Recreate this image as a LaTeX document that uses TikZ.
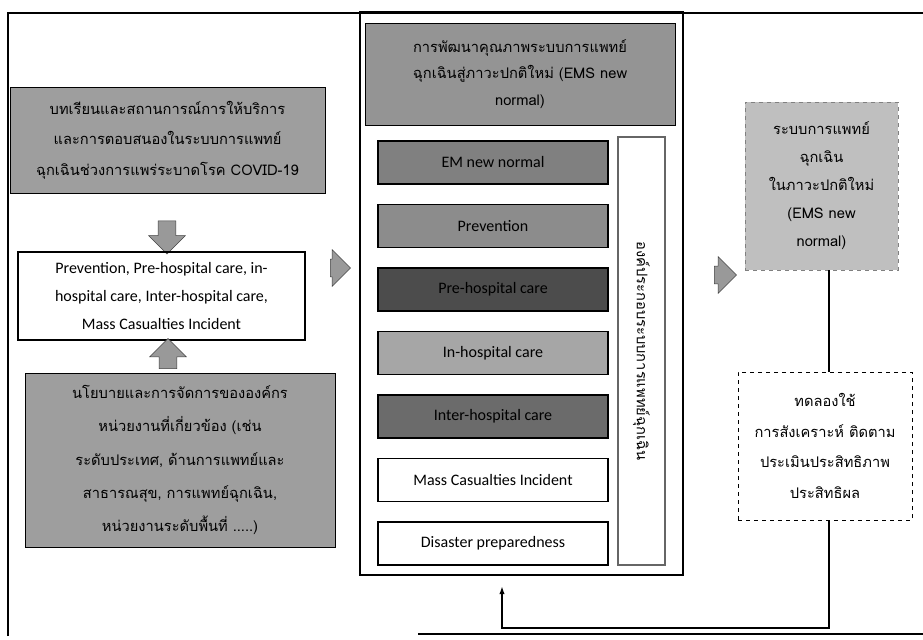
\documentclass[tikz,border=0pt]{standalone}
\usepackage{fontspec}
\setmainfont{Carlito}
\newfontfamily\thai[Script=Thai]{Loma}
\usetikzlibrary{shapes.arrows,arrows.meta}

\tikzset{
  wh/.style 2 args={minimum width=#1*0.75pt, minimum height=#2*0.75pt},
  box/.style={draw, inner sep=0pt, align=center},
  thaitext/.style={font=\thai\fontsize{11}{#1}\selectfont},
  item/.style={draw, line width=0.8pt, inner sep=0pt, wh={230}{43}, font=\fontsize{12}{14}\selectfont},
  blockarrow/.style={single arrow, draw=black!75, fill=black!40, inner xsep=0pt, inner ysep=6.5pt,
    single arrow head extend=7pt, minimum height=#1*0.75pt}
}

\begin{document}
\begin{tikzpicture}[x=0.75pt, y=-0.75pt]
	\useasboundingbox (0,0) rectangle (923,639);
	\draw[line width=0.8pt] (8,636) -- (8,13) -- (923,13);
	\draw[line width=0.8pt] (418,634) -- (923,634);

	\node[box, fill=black!38, wh={315}{106}, thaitext=23pt] (lessons) at (167.5,140)
		{บทเรียนและสถานการณ์การให้บริการ\\และการตอบสนองในระบบการแพทย์\\ฉุกเฉินช่วงการแพร่ระบาดโรค COVID-19};
	\node[blockarrow=33, rotate=-90] (down) at (167,233) {};
	\node[box, line width=0.8pt, wh={287}{88}, font=\fontsize{12}{21}\selectfont] (care) at (161.5,296)
		{Prevention, Pre-hospital care, in-\\hospital care, Inter-hospital care,\\Mass Casualties Incident};
	\node[blockarrow=30, rotate=90] (up) at (168,358) {};
	\node[box, fill=black!38, wh={310}{174}, thaitext=25pt] (policy) at (180,460)
		{นโยบายและการจัดการขององค์กร\\หน่วยงานที่เกี่ยวข้อง (เช่น\\ระดับประเทศ, ด้านการแพทย์และ\\สาธารณสุข, การแพทย์ฉุกเฉิน,\\หน่วยงานระดับพื้นที่ .....)};
	\node[blockarrow=20] (toems) at (336,268) {};

	\node[box, line width=0.8pt, wh={323}{563}] (ems) at (521.5,293.5) {};
	\node[box, fill=black!42, wh={310}{102}, thaitext=20pt] (header) at (520,74)
		{การพัฒนาคุณภาพระบบการแพทย์\\ฉุกเฉินสู่ภาวะปกติใหม่ (EMS new\\normal)};
	\foreach \i/\lbl/\shade in {0/EM new normal/50, 1/Prevention/45, 2/Pre-hospital care/70,
		3/In-hospital care/35, 4/Inter-hospital care/58, 5/Mass Casualties Incident/0,
		6/Disaster preparedness/0}
	\node[item, fill=black!\shade] (it\i) at (493,162.5+63.5*\i) {\lbl};
	\node[box, draw=black!60, line width=2pt, wh={47}{428}] (bar) at (641.5,351) {};
	\node[rotate=-90, thaitext=12pt] (barlabel) at (bar.center) {องค์ประกอบระบบการแพทย์ฉุกเฉิน};
	\node[blockarrow=22] (tonew) at (721,275) {};

	\node[box, draw=black!50, dashed, fill=black!25, wh={153}{168}, thaitext=21pt] (newems) at (821.5,186)
		{ระบบการแพทย์\\ฉุกเฉิน\\ในภาวะปกติใหม่\\(EMS new\\normal)};
	\node[box, dashed, wh={174}{148}, thaitext=23pt] (trial) at (825,446)
		{ทดลองใช้\\การสังเคราะห์ ติดตาม\\ประเมินประสิทธิภาพ\\ประสิทธิผล};

	\coordinate (vx) at (829,0);
	\coordinate (fb) at (502,628);
	\coordinate (fbtip) at (502,586);
	\draw[line width=1.2pt] (newems.south -| vx) -- (trial.north -| vx);
	\draw[line width=1.2pt, -{Latex[length=6pt,width=4pt]}] (trial.south -| vx) |- (fb) -- (fbtip);
\end{tikzpicture}
\end{document}
